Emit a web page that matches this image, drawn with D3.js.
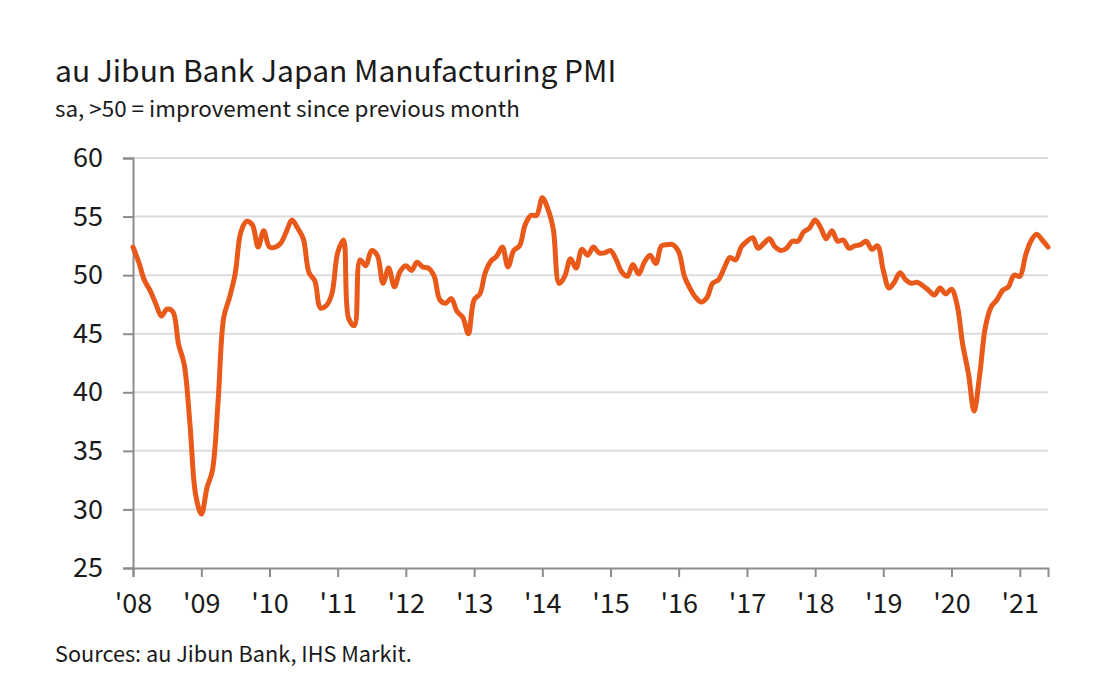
<!DOCTYPE html>
<html>
<head>
<meta charset="utf-8">
<script src="https://cdn.jsdelivr.net/npm/d3@7"></script>
<style>
  body { margin: 0; background: #fff; }
  svg text { font-family: "Noto Sans CJK JP", "Noto Sans", sans-serif; fill: #1a1a1a; }
</style>
</head>
<body>
<div id="chart"></div>
<script>
// monthly PMI readings, Jan 2008 .. Jun 2021
var startMonth = new Date(2008, 0, 1);
var pmi = [
  52.4, 51.1, 49.6, 48.7, 47.6, 46.5, 47.1, 46.9, 44.1, 42.4, 37.3, 31.3,   // 2008
  29.6, 31.9, 33.3, 39.3, 46.4, 48.1, 50.1, 53.7, 54.6, 54.3, 52.4, 53.8,   // 2009
  52.4, 52.4, 52.7, 53.7, 54.7, 54.0, 53.1, 50.2, 49.5, 47.2, 47.4, 48.4,   // 2010
  51.9, 53.0, 46.3, 45.7, 51.3, 50.8, 52.1, 51.7, 49.3, 50.6, 49.0, 50.3,   // 2011
  50.8, 50.4, 51.1, 50.7, 50.6, 49.9, 47.9, 47.6, 48.0, 46.9, 46.4, 45.0,   // 2012
  47.9, 48.4, 50.2, 51.2, 51.6, 52.4, 50.7, 52.1, 52.5, 54.3, 55.1, 55.1,   // 2013
  56.6, 55.6, 53.9, 49.3, 49.9, 51.4, 50.6, 52.2, 51.7, 52.4, 51.9, 51.9,   // 2014
  52.1, 51.3, 50.3, 49.9, 50.9, 50.1, 51.1, 51.7, 51.0, 52.5, 52.6, 52.6,   // 2015
  52.0, 49.9, 48.9, 48.1, 47.7, 48.1, 49.3, 49.6, 50.6, 51.5, 51.3, 52.4,   // 2016
  52.9, 53.2, 52.3, 52.7, 53.1, 52.4, 52.1, 52.3, 52.9, 52.9, 53.7, 54.0,   // 2017
  54.7, 54.0, 53.1, 53.8, 52.9, 53.0, 52.3, 52.5, 52.6, 52.9, 52.2, 52.5,   // 2018
  50.4, 48.9, 49.4, 50.2, 49.6, 49.3, 49.4, 49.1, 48.7, 48.3, 48.9, 48.4,   // 2019
  48.8, 47.4, 44.1, 41.6, 38.4, 41.6, 45.6, 47.3, 47.9, 48.7, 49.0, 50.0,   // 2020
  49.9, 51.7, 52.9, 53.5, 53.0, 52.4                                        // 2021
];
var yTicks = [25, 30, 35, 40, 45, 50, 55, 60];
var yearTicks = ["'08", "'09", "'10", "'11", "'12", "'13", "'14", "'15", "'16", "'17", "'18", "'19", "'20", "'21"];

var title = "au Jibun Bank Japan Manufacturing PMI";
var subtitle = "sa, >50 = improvement since previous month";
var source = "Sources: au Jibun Bank, IHS Markit.";

var width = 1110, height = 686;
var margin = { left: 133, right: 62, top: 158, bottom: 118 };

var data = pmi.map(function(v, i) {
  return { date: d3.timeMonth.offset(startMonth, i), value: v };
});

var svg = d3.select("#chart").append("svg")
  .attr("width", width)
  .attr("height", height);

var x = d3.scaleTime()
  .domain([startMonth, data[data.length - 1].date])
  .range([margin.left, width - margin.right]);

var y = d3.scaleLinear()
  .domain([25, 60])
  .range([height - margin.bottom, margin.top]);

// gridlines
svg.append("g")
  .selectAll("line")
  .data(yTicks.slice(1))
  .join("line")
  .attr("x1", margin.left)
  .attr("x2", width - margin.right)
  .attr("y1", d => y(d))
  .attr("y2", d => y(d))
  .attr("stroke", "#dcdcdc")
  .attr("stroke-width", 2);

// y axis
var yAxis = svg.append("g")
  .attr("transform", "translate(" + margin.left + ",0)")
  .call(d3.axisLeft(y).tickValues(yTicks).tickSize(10).tickPadding(20));
yAxis.select(".domain").attr("stroke", "#8c8c8c").attr("stroke-width", 2);
yAxis.selectAll(".tick line").attr("stroke", "#8c8c8c").attr("stroke-width", 2);
yAxis.selectAll(".tick text")
  .attr("font-size", 27)
  .attr("fill", "#1a1a1a")
  .attr("font-family", "Noto Sans CJK JP, Noto Sans, sans-serif");

// x axis
var years = d3.range(yearTicks.length).map(i => new Date(2008 + i, 0, 1));
var xAxis = svg.append("g")
  .attr("transform", "translate(0," + (height - margin.bottom) + ")")
  .call(d3.axisBottom(x).tickValues(years).tickSize(9).tickPadding(17)
    .tickFormat((d, i) => yearTicks[i]));
xAxis.select(".domain").attr("stroke", "#8c8c8c").attr("stroke-width", 2);
xAxis.selectAll(".tick line").attr("stroke", "#8c8c8c").attr("stroke-width", 2);
xAxis.selectAll(".tick text")
  .attr("font-size", 27)
  .attr("fill", "#1a1a1a")
  .attr("font-family", "Noto Sans CJK JP, Noto Sans, sans-serif");

// pmi line
var line = d3.line()
  .x(d => x(d.date))
  .y(d => y(d.value))
  .curve(d3.curveCatmullRom.alpha(0.5));

svg.append("path")
  .datum(data)
  .attr("fill", "none")
  .attr("stroke", "#e8591a")
  .attr("stroke-width", 5)
  .attr("stroke-linejoin", "round")
  .attr("stroke-linecap", "round")
  .attr("d", line);

// titles
svg.append("text").attr("x", 55).attr("y", 82).attr("font-size", 30).text(title);
svg.append("text").attr("x", 55).attr("y", 117).attr("font-size", 22.4).text(subtitle);
svg.append("text").attr("x", 55).attr("y", 662).attr("font-size", 21.7).text(source);
</script>
</body>
</html>
